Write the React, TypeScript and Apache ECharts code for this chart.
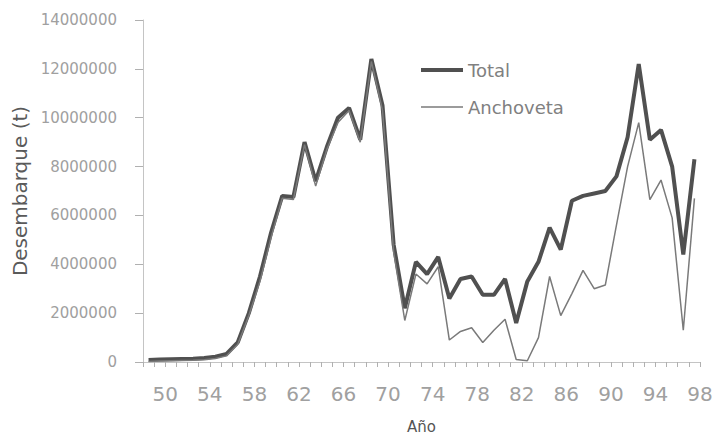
import React, { useEffect, useRef } from "react";
import * as echarts from "echarts";

// Years of the plotted points
const years: string[] = [
  "1950","1951","1952","1953","1954","1955","1956","1957","1958","1959",
  "1960","1961","1962","1963","1964","1965","1966","1967","1968","1969",
  "1970","1971","1972","1973","1974","1975","1976","1977","1978","1979",
  "1980","1981","1982","1983","1984","1985","1986","1987","1988","1989",
  "1990","1991","1992","1993","1994","1995","1996","1997","1998","1999",
];

// Landings (t)
const total: number[] = [
  80000, 100000, 110000, 120000, 130000, 160000, 220000, 330000, 800000, 2000000,
  3500000, 5300000, 6800000, 6750000, 9000000, 7400000, 8800000, 10000000, 10400000, 9100000,
  12400000, 10500000, 4800000, 2200000, 4100000, 3600000, 4300000, 2600000, 3400000, 3500000,
  2750000, 2750000, 3400000, 1600000, 3300000, 4100000, 5500000, 4600000, 6600000, 6800000,
  6900000, 7000000, 7600000, 9200000, 12200000, 9100000, 9500000, 8000000, 4400000, 8300000,
];

const anchoveta: number[] = [
  20000, 40000, 50000, 60000, 70000, 90000, 140000, 250000, 720000, 1900000,
  3300000, 5100000, 6700000, 6650000, 8900000, 7200000, 8700000, 9800000, 10300000, 9000000,
  12300000, 10300000, 4500000, 1700000, 3600000, 3200000, 3900000, 900000, 1250000, 1400000,
  800000, 1300000, 1750000, 100000, 50000, 1000000, 3500000, 1900000, 2800000, 3750000,
  3000000, 3150000, 5600000, 8000000, 9800000, 6650000, 7450000, 5900000, 1300000, 6700000,
];

// Tick labels of the year axis (placed on the category boundaries)
const tickLabels: string[] = [
  "48","49","50","51","52","53","54","55","56","57","58","59",
  "60","61","62","63","64","65","66","67","68","69","70","71",
  "72","73","74","75","76","77","78","79","80","81","82","83",
  "84","85","86","87","88","89","90","91","92","93","94","95",
  "96","97","98",
];

const FONT = "'DejaVu Sans', sans-serif";

export default function App() {
  const ref = useRef<HTMLDivElement>(null);
  useEffect(() => {
    if (!ref.current) return;
    const chart = echarts.init(ref.current, undefined, { renderer: "svg" });
    chart.setOption({
      animation: false,
      backgroundColor: "#ffffff",
      textStyle: { fontFamily: FONT },
      grid: { left: 143, right: 14, top: 20, bottom: 77, containLabel: false, outerBoundsMode: "none" },
      legend: {
        orient: "vertical",
        left: 421,
        top: 61,
        padding: 0,
        itemWidth: 42,
        itemHeight: 14,
        itemGap: 19,
        symbolKeepAspect: true,
        textStyle: { fontSize: 18, color: "#808080", fontFamily: FONT },
        data: [
          { name: "Total", icon: "path://M0,0H42V4H0Z" },
          { name: "Anchoveta", icon: "path://M0,0H42V1.5H0Z" },
        ],
      },
      xAxis: [
        {
          type: "category",
          data: years,
          boundaryGap: true,
          name: "Año",
          nameLocation: "middle",
          nameGap: 57,
          nameTextStyle: { fontSize: 15, color: "#555", fontFamily: FONT },
          axisLine: { lineStyle: { color: "#c4c4c4", width: 1 } },
          axisTick: { show: true, interval: 0, length: 5, lineStyle: { color: "#b0b0b0" } },
          axisLabel: { show: false },
          splitLine: { show: false },
        },
        {
          type: "category",
          data: tickLabels,
          boundaryGap: false,
          position: "bottom",
          axisLine: { show: false },
          axisTick: { show: false },
          axisLabel: {
            interval: (index: number) => index % 4 === 2,
            margin: 22,
            fontSize: 20,
            color: "#a0a0a0",
            fontFamily: FONT,
          },
          splitLine: { show: false },
        },
      ],
      yAxis: {
        type: "value",
        min: 0,
        max: 14000000,
        interval: 2000000,
        name: "Desembarque (t)",
        nameLocation: "middle",
        nameGap: 113,
        nameTextStyle: { fontSize: 20, color: "#5a5a5a", fontFamily: FONT },
        axisLine: { show: true, lineStyle: { color: "#c4c4c4", width: 1 } },
        axisTick: { show: true, length: 8, lineStyle: { color: "#b0b0b0" } },
        axisLabel: {
          margin: 26,
          fontSize: 15,
          color: "#a0a0a0",
          fontFamily: FONT,
          formatter: (v: number) => String(v),
        },
        splitLine: { show: false },
      },
      series: [
        {
          name: "Total",
          type: "line",
          xAxisIndex: 0,
          data: total,
          symbol: "none",
          lineStyle: { color: "#505050", width: 4 },
          itemStyle: { color: "#505050" },
          z: 2,
        },
        {
          name: "Anchoveta",
          type: "line",
          xAxisIndex: 0,
          data: anchoveta,
          symbol: "none",
          lineStyle: { color: "#7a7a7a", width: 1.5 },
          itemStyle: { color: "#7a7a7a" },
          z: 3,
        },
      ],
    });
    return () => chart.dispose();
  }, []);
  return <div ref={ref} style={{ width: 714, height: 439, position: "absolute", left: 0, top: 0 }} />;
}
